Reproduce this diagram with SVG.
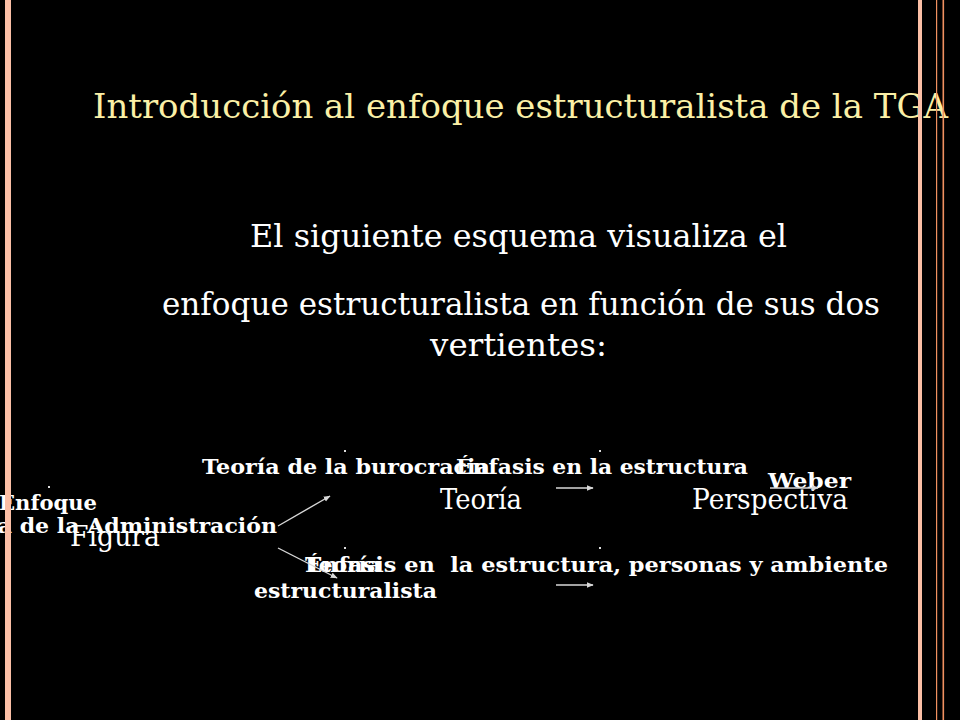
<svg xmlns="http://www.w3.org/2000/svg" width="960" height="720" viewBox="0 0 960 720">
<style>
.t{font-family:"DejaVu Serif","Liberation Serif",serif;}
.title{font-size:34px;fill:#fbf0a6;}
.sub{font-size:31px;fill:#ffffff;}
.b{font-size:21px;font-weight:bold;fill:#ffffff;}
.r{font-size:28px;fill:#ffffff;}
.dot{fill:#dddddd;}
.conn line{stroke:#d8d8d8;stroke-width:1.4;marker-end:url(#ah);}
</style>
<defs>
<marker id="ah" viewBox="0 0 10 10" refX="9" refY="5" markerWidth="7" markerHeight="7" orient="auto" markerUnits="userSpaceOnUse">
<path d="M0,1 L10,5 L0,9 z" fill="#d8d8d8"/>
</marker>
</defs>
<rect x="0" y="0" width="960" height="720" fill="#000000"/>

<g id="title">
<text class="t title" x="93" y="118" textLength="855" lengthAdjust="spacingAndGlyphs">Introducción al enfoque estructuralista de la TGA</text>
</g>
<g id="intro">
<text class="t sub" x="250" y="247" textLength="537" lengthAdjust="spacingAndGlyphs">El siguiente esquema visualiza el</text>
<text class="t sub" x="162" y="315" textLength="718" lengthAdjust="spacingAndGlyphs">enfoque estructuralista en función de sus dos</text>
<text class="t sub" x="430" y="356" textLength="177" lengthAdjust="spacingAndGlyphs">vertientes:</text>
</g>

<g id="node-enfoque">
<rect class="dot" x="48" y="486" width="2" height="2"/>
<text class="t b" x="-1" y="510" textLength="98" lengthAdjust="spacingAndGlyphs">Enfoque</text>
<text class="t b" x="-65" y="533" textLength="342" lengthAdjust="spacingAndGlyphs">Teoría de la Administración</text>
</g>
<g id="node-figura">
<text class="t r" x="70" y="546" textLength="90" lengthAdjust="spacingAndGlyphs">Figura</text>
</g>
<g id="node-teoria-burocracia">
<rect class="dot" x="344" y="450" width="2" height="2"/>
<text class="t b" x="202" y="474" textLength="288" lengthAdjust="spacingAndGlyphs">Teoría de la burocracia</text>
</g>
<g id="node-teoria-estructuralista">
<rect class="dot" x="344" y="547" width="2" height="2"/>
<text class="t b" x="305" y="572" textLength="76" lengthAdjust="spacingAndGlyphs">Teoría</text>
<text class="t b" x="254" y="598" textLength="183" lengthAdjust="spacingAndGlyphs">estructuralista</text>
</g>
<g id="node-teoria">
<text class="t r" x="440" y="509" textLength="82" lengthAdjust="spacingAndGlyphs">Teoría</text>
</g>
<g id="node-enfasis-estructura">
<rect class="dot" x="599" y="450" width="2" height="2"/>
<text class="t b" x="456" y="474" textLength="292" lengthAdjust="spacingAndGlyphs">Énfasis en la estructura</text>
</g>
<g id="node-enfasis-ambiente">
<rect class="dot" x="599" y="547" width="2" height="2"/>
<text class="t b" x="305" y="572" textLength="583" lengthAdjust="spacingAndGlyphs" xml:space="preserve">Énfasis en  la estructura, personas y ambiente</text>
</g>
<g id="node-perspectiva">
<text class="t r" x="692" y="509" textLength="156" lengthAdjust="spacingAndGlyphs">Perspectiva</text>
</g>
<g id="node-weber">
<text class="t b" x="768" y="488" textLength="83" lengthAdjust="spacingAndGlyphs">Weber</text>
</g>

<g id="connectors" class="conn">
<line x1="278" y1="526" x2="330" y2="496"/>
<line x1="278" y1="548" x2="337" y2="578"/>
<line x1="556" y1="488" x2="593" y2="488"/>
<line x1="556" y1="585" x2="593" y2="585"/>
<line x1="770" y1="488" x2="818" y2="488"/>
</g>

<g id="frame">
<rect x="5" y="0" width="6" height="720" fill="#fbbfa6"/>
<rect x="918" y="0" width="4" height="720" fill="#fbbfa6"/>
<rect x="936" y="0" width="1.2" height="720" fill="#f09060"/>
<rect x="942.5" y="0" width="1.6" height="720" fill="#f09060"/>
</g>
</svg>
